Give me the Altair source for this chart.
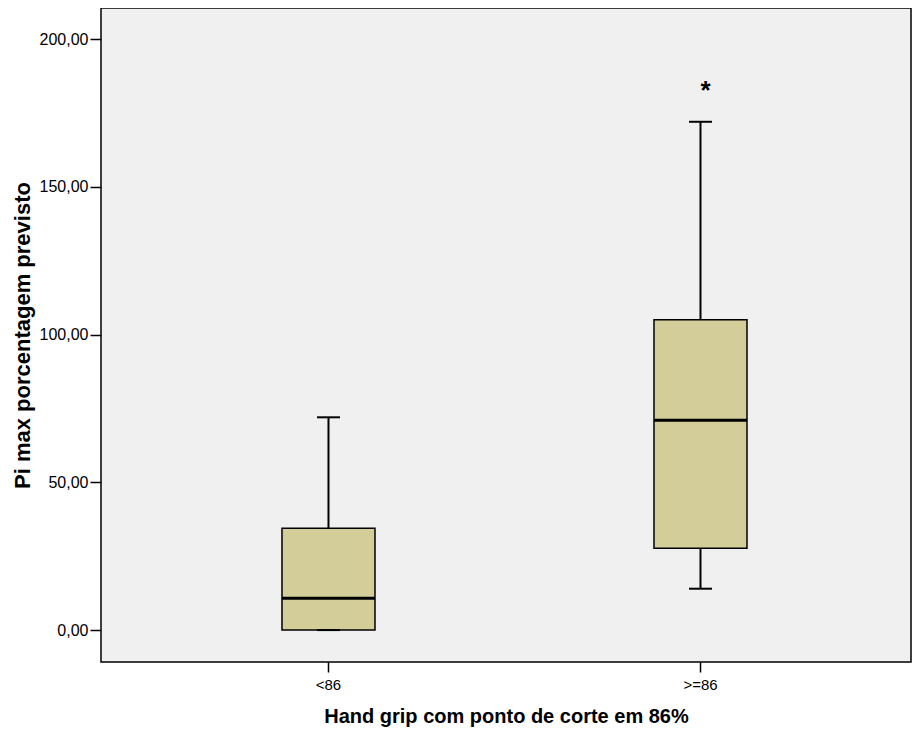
import altair as alt
import pandas as pd

groups = ["<86", ">=86"]
mins = [0.0, 14.0]
q1s = [0.0, 27.7]
medians = [10.8, 71.0]
q3s = [34.5, 105.0]
maxs = [72.0, 172.0]
outlier_groups = [">=86"]
outlier_values = [183.0]

df = pd.DataFrame({"g": groups, "lo": mins, "q1": q1s, "med": medians, "q3": q3s, "hi": maxs})
out = pd.DataFrame({"g": outlier_groups, "v": outlier_values, "s": ["*"] * len(outlier_values)})

xscale = alt.Scale(domain=groups, paddingInner=0.75, paddingOuter=0.4637, align=0.5246)
yscale = alt.Scale(domain=[-10.8, 210.5], nice=False, zero=False)

xaxis = alt.Axis(title="Hand grip com ponto de corte em 86%", labelAngle=0, tickSize=10,
                 tickColor="black", tickWidth=1.5, domain=False, labelFontSize=15,
                 labelColor="black", labelFont="Liberation Sans", labelPadding=5,
                 titleFont="Liberation Sans", titleFontSize=20, titleFontWeight="bold",
                 titleColor="black", titlePadding=14)
yaxis = alt.Axis(title="Pi max porcentagem previsto", values=[0, 50, 100, 150, 200],
                 labelExpr="replace(format(datum.value, '.2f'), '.', ',')",
                 tickSize=11, tickColor="black", tickWidth=1.5, domain=False, grid=False,
                 labelFontSize=16, labelColor="black", labelFont="Liberation Sans", labelPadding=2,
                 titleFont="Liberation Sans", titleFontSize=22, titleFontWeight="bold",
                 titleColor="black", titlePadding=5)

base = alt.Chart(df).encode(x=alt.X("g:N", scale=xscale, axis=xaxis, sort=groups))

upper = base.mark_rule(color="black", strokeWidth=2).encode(
    y=alt.Y("q3:Q", scale=yscale, axis=yaxis), y2="hi:Q")
lower = base.mark_rule(color="black", strokeWidth=2).encode(y=alt.Y("lo:Q"), y2="q1:Q")
box = base.mark_bar(fill="#D3CE99", stroke="black", strokeWidth=1.5, opacity=1).encode(
    y=alt.Y("q1:Q"), y2="q3:Q")
med = base.mark_tick(color="black", size=93, thickness=3, orient="horizontal", opacity=1).encode(
    y=alt.Y("med:Q"))
cap_hi = base.mark_tick(color="black", size=23, thickness=2, orient="horizontal", opacity=1).encode(
    y=alt.Y("hi:Q"))
cap_lo = base.mark_tick(color="black", size=23, thickness=2, orient="horizontal", opacity=1).encode(
    y=alt.Y("lo:Q"))
star = alt.Chart(out).mark_text(fontSize=26, fontWeight="bold", font="Liberation Sans",
                                 color="black", baseline="middle", dy=2, dx=5).encode(
    x=alt.X("g:N", scale=xscale, sort=groups), y=alt.Y("v:Q"), text="s:N")

chart = alt.layer(upper, lower, box, med, cap_hi, cap_lo, star).properties(
    width=810, height=654, autosize="none",
    padding={"left": 93, "top": 0, "right": 1, "bottom": 65},
    background="white",
).configure_view(fill="#F0F0F0", stroke="black", strokeWidth=1.5)

chart.save("out.html", embed_options={"renderer": "svg", "actions": False})
